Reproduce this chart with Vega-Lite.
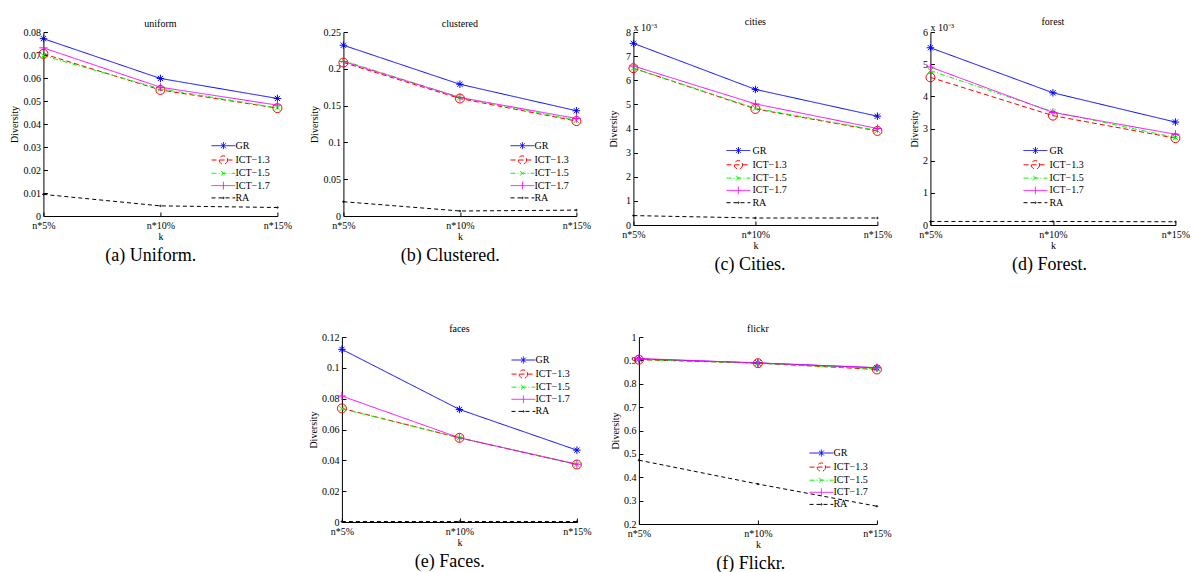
{
  "$schema": "https://vega.github.io/schema/vega-lite/v6.json",
  "padding": {"left": 9, "top": 6, "right": 0, "bottom": 0},
  "datasets": {
    "d": [
      {"ds": "uniform", "alg": "GR", "k": "n*5%", "v": 0.0771},
      {"ds": "uniform", "alg": "GR", "k": "n*10%", "v": 0.0598},
      {"ds": "uniform", "alg": "GR", "k": "n*15%", "v": 0.0511},
      {"ds": "uniform", "alg": "ICT-1.3", "k": "n*5%", "v": 0.0705},
      {"ds": "uniform", "alg": "ICT-1.3", "k": "n*10%", "v": 0.0548},
      {"ds": "uniform", "alg": "ICT-1.3", "k": "n*15%", "v": 0.0469},
      {"ds": "uniform", "alg": "ICT-1.5", "k": "n*5%", "v": 0.0697},
      {"ds": "uniform", "alg": "ICT-1.5", "k": "n*10%", "v": 0.0553},
      {"ds": "uniform", "alg": "ICT-1.5", "k": "n*15%", "v": 0.047},
      {"ds": "uniform", "alg": "ICT-1.7", "k": "n*5%", "v": 0.0731},
      {"ds": "uniform", "alg": "ICT-1.7", "k": "n*10%", "v": 0.056},
      {"ds": "uniform", "alg": "ICT-1.7", "k": "n*15%", "v": 0.0482},
      {"ds": "uniform", "alg": "RA", "k": "n*5%", "v": 0.0094},
      {"ds": "uniform", "alg": "RA", "k": "n*10%", "v": 0.0044},
      {"ds": "uniform", "alg": "RA", "k": "n*15%", "v": 0.0037},

      {"ds": "clustered", "alg": "GR", "k": "n*5%", "v": 0.232},
      {"ds": "clustered", "alg": "GR", "k": "n*10%", "v": 0.179},
      {"ds": "clustered", "alg": "GR", "k": "n*15%", "v": 0.143},
      {"ds": "clustered", "alg": "ICT-1.3", "k": "n*5%", "v": 0.2085},
      {"ds": "clustered", "alg": "ICT-1.3", "k": "n*10%", "v": 0.1596},
      {"ds": "clustered", "alg": "ICT-1.3", "k": "n*15%", "v": 0.129},
      {"ds": "clustered", "alg": "ICT-1.5", "k": "n*5%", "v": 0.211},
      {"ds": "clustered", "alg": "ICT-1.5", "k": "n*10%", "v": 0.161},
      {"ds": "clustered", "alg": "ICT-1.5", "k": "n*15%", "v": 0.13},
      {"ds": "clustered", "alg": "ICT-1.7", "k": "n*5%", "v": 0.21},
      {"ds": "clustered", "alg": "ICT-1.7", "k": "n*10%", "v": 0.161},
      {"ds": "clustered", "alg": "ICT-1.7", "k": "n*15%", "v": 0.1325},
      {"ds": "clustered", "alg": "RA", "k": "n*5%", "v": 0.0194},
      {"ds": "clustered", "alg": "RA", "k": "n*10%", "v": 0.0068},
      {"ds": "clustered", "alg": "RA", "k": "n*15%", "v": 0.008},

      {"ds": "cities", "alg": "GR", "k": "n*5%", "v": 0.00753},
      {"ds": "cities", "alg": "GR", "k": "n*10%", "v": 0.00562},
      {"ds": "cities", "alg": "GR", "k": "n*15%", "v": 0.00451},
      {"ds": "cities", "alg": "ICT-1.3", "k": "n*5%", "v": 0.0065},
      {"ds": "cities", "alg": "ICT-1.3", "k": "n*10%", "v": 0.00481},
      {"ds": "cities", "alg": "ICT-1.3", "k": "n*15%", "v": 0.0039},
      {"ds": "cities", "alg": "ICT-1.5", "k": "n*5%", "v": 0.0065},
      {"ds": "cities", "alg": "ICT-1.5", "k": "n*10%", "v": 0.00484},
      {"ds": "cities", "alg": "ICT-1.5", "k": "n*15%", "v": 0.00392},
      {"ds": "cities", "alg": "ICT-1.7", "k": "n*5%", "v": 0.00659},
      {"ds": "cities", "alg": "ICT-1.7", "k": "n*10%", "v": 0.00502},
      {"ds": "cities", "alg": "ICT-1.7", "k": "n*15%", "v": 0.004},
      {"ds": "cities", "alg": "RA", "k": "n*5%", "v": 0.00039},
      {"ds": "cities", "alg": "RA", "k": "n*10%", "v": 0.00029},
      {"ds": "cities", "alg": "RA", "k": "n*15%", "v": 0.00029},

      {"ds": "forest", "alg": "GR", "k": "n*5%", "v": 0.00551},
      {"ds": "forest", "alg": "GR", "k": "n*10%", "v": 0.00411},
      {"ds": "forest", "alg": "GR", "k": "n*15%", "v": 0.0032},
      {"ds": "forest", "alg": "ICT-1.3", "k": "n*5%", "v": 0.00459},
      {"ds": "forest", "alg": "ICT-1.3", "k": "n*10%", "v": 0.0034},
      {"ds": "forest", "alg": "ICT-1.3", "k": "n*15%", "v": 0.0027},
      {"ds": "forest", "alg": "ICT-1.5", "k": "n*5%", "v": 0.0048},
      {"ds": "forest", "alg": "ICT-1.5", "k": "n*10%", "v": 0.00352},
      {"ds": "forest", "alg": "ICT-1.5", "k": "n*15%", "v": 0.00272},
      {"ds": "forest", "alg": "ICT-1.7", "k": "n*5%", "v": 0.00491},
      {"ds": "forest", "alg": "ICT-1.7", "k": "n*10%", "v": 0.0035},
      {"ds": "forest", "alg": "ICT-1.7", "k": "n*15%", "v": 0.00282},
      {"ds": "forest", "alg": "RA", "k": "n*5%", "v": 0.00011},
      {"ds": "forest", "alg": "RA", "k": "n*10%", "v": 0.00011},
      {"ds": "forest", "alg": "RA", "k": "n*15%", "v": 0.0001},

      {"ds": "faces", "alg": "GR", "k": "n*5%", "v": 0.112},
      {"ds": "faces", "alg": "GR", "k": "n*10%", "v": 0.073},
      {"ds": "faces", "alg": "GR", "k": "n*15%", "v": 0.0466},
      {"ds": "faces", "alg": "ICT-1.3", "k": "n*5%", "v": 0.0737},
      {"ds": "faces", "alg": "ICT-1.3", "k": "n*10%", "v": 0.0546},
      {"ds": "faces", "alg": "ICT-1.3", "k": "n*15%", "v": 0.0373},
      {"ds": "faces", "alg": "ICT-1.5", "k": "n*5%", "v": 0.0735},
      {"ds": "faces", "alg": "ICT-1.5", "k": "n*10%", "v": 0.0546},
      {"ds": "faces", "alg": "ICT-1.5", "k": "n*15%", "v": 0.0373},
      {"ds": "faces", "alg": "ICT-1.7", "k": "n*5%", "v": 0.0817},
      {"ds": "faces", "alg": "ICT-1.7", "k": "n*10%", "v": 0.0546},
      {"ds": "faces", "alg": "ICT-1.7", "k": "n*15%", "v": 0.0375},
      {"ds": "faces", "alg": "RA", "k": "n*5%", "v": 0.0003},
      {"ds": "faces", "alg": "RA", "k": "n*10%", "v": 0.0003},
      {"ds": "faces", "alg": "RA", "k": "n*15%", "v": 0.0003},

      {"ds": "flickr", "alg": "GR", "k": "n*5%", "v": 0.906},
      {"ds": "flickr", "alg": "GR", "k": "n*10%", "v": 0.889},
      {"ds": "flickr", "alg": "GR", "k": "n*15%", "v": 0.868},
      {"ds": "flickr", "alg": "ICT-1.3", "k": "n*5%", "v": 0.903},
      {"ds": "flickr", "alg": "ICT-1.3", "k": "n*10%", "v": 0.888},
      {"ds": "flickr", "alg": "ICT-1.3", "k": "n*15%", "v": 0.861},
      {"ds": "flickr", "alg": "ICT-1.5", "k": "n*5%", "v": 0.904},
      {"ds": "flickr", "alg": "ICT-1.5", "k": "n*10%", "v": 0.888},
      {"ds": "flickr", "alg": "ICT-1.5", "k": "n*15%", "v": 0.864},
      {"ds": "flickr", "alg": "ICT-1.7", "k": "n*5%", "v": 0.908},
      {"ds": "flickr", "alg": "ICT-1.7", "k": "n*10%", "v": 0.889},
      {"ds": "flickr", "alg": "ICT-1.7", "k": "n*15%", "v": 0.869},
      {"ds": "flickr", "alg": "RA", "k": "n*5%", "v": 0.473},
      {"ds": "flickr", "alg": "RA", "k": "n*10%", "v": 0.371},
      {"ds": "flickr", "alg": "RA", "k": "n*15%", "v": 0.276}
    ]
  },
  "center": true,
  "spacing": 49,
  "resolve": {"scale": {"color": "independent", "shape": "independent", "strokeDash": "independent"}},
  "vconcat": [
    {
      "columns": 4,
      "align": "none",
      "spacing": 17,
      "resolve": {"scale": {"color": "independent", "shape": "independent", "strokeDash": "independent"}},
      "concat": [
        {
          "title": {"text": "(a) Uniform.", "orient": "bottom", "anchor": "middle", "fontSize": 18, "offset": 6},
          "resolve": {"scale": {"color": "independent", "shape": "independent", "strokeDash": "independent"}},
          "vconcat": [
            {
              "width": 234, "height": 184,
              "title": {"text": ["", "uniform"], "lineHeight": 13, "frame": "group", "offset": -2},
              "data": {"name": "d"},
              "transform": [{"filter": "datum.ds === 'uniform'"}],
              "encoding": {
                "x": {"field": "k", "type": "ordinal", "sort": ["n*5%", "n*10%", "n*15%"], "scale": {"type": "point", "padding": 0}, "axis": {"title": "k"}},
                "y": {"field": "v", "type": "quantitative", "scale": {"domain": [0, 0.08], "nice": false}, "axis": {"title": "Diversity", "values": [0, 0.01, 0.02, 0.03, 0.04, 0.05, 0.06, 0.07, 0.08], "labelExpr": "toString(datum.value)"}},
                "color": {"field": "alg", "type": "nominal", "scale": {"domain": ["GR", "ICT-1.3", "ICT-1.5", "ICT-1.7", "RA"], "range": ["#0000ff", "#ff0000", "#00ff00", "#ff00ff", "#000000"]},
                  "legend": {"title": null, "orient": "none", "legendX": 175, "legendY": 108.7, "rowPadding": 1.3, "labelOffset": 7, "labelExpr": "replace(datum.label, '-', '−')"}}
              },
              "layer": [
                {"mark": {"type": "line", "strokeWidth": 1},
                 "encoding": {"strokeDash": {"field": "alg", "type": "nominal", "scale": {"domain": ["GR", "ICT-1.3", "ICT-1.5", "ICT-1.7", "RA"], "range": [[1, 0], [5, 3], [5, 2, 1, 2], [1, 0], [4, 3]]}, "legend": null}}},
                {"mark": {"type": "point", "filled": false, "opacity": 1, "strokeWidth": 1, "size": 56},
                 "encoding": {
                   "color": {"field": "alg", "type": "nominal", "scale": {"domain": ["GR", "ICT-1.3", "ICT-1.5", "ICT-1.7", "RA"], "range": ["#0000ff", "#ff0000", "#00ff00", "#ff00ff", "#000000"]}, "legend": null},
                   "shape": {"condition": [{"test": "datum.alg === 'GR'", "value": "M-1,0L1,0M0,-1L0,1M-0.7,-0.7L0.7,0.7M-0.7,0.7L0.7,-0.7"}, {"test": "datum.alg === 'ICT-1.3'", "value": "M1.2,0A1.2,1.2,0,1,1,-1.2,0A1.2,1.2,0,1,1,1.2,0"}, {"test": "datum.alg === 'ICT-1.5'", "value": "M-0.7,-0.7L0.7,0.7M-0.7,0.7L0.7,-0.7"}, {"test": "datum.alg === 'ICT-1.7'", "value": "M-1.1,0L1.1,0M0,-1.1L0,1.1"}], "value": "M-0.2,0A0.2,0.2,0,1,1,0.2,0A0.2,0.2,0,1,1,-0.2,0"}}},
                {"mark": {"type": "point", "filled": false, "opacity": 0, "strokeWidth": 1, "size": 49},
                 "encoding": {"shape": {"field": "alg", "type": "nominal", "scale": {"domain": ["GR", "ICT-1.3", "ICT-1.5", "ICT-1.7", "RA"], "range": ["M-3.4,0L3.4,0M0,-1L0,1M-0.7,-0.7L0.7,0.7M-0.7,0.7L0.7,-0.7", "M-3.4,0L3.4,0M1.2,0A1.2,1.2,0,1,1,-1.2,0A1.2,1.2,0,1,1,1.2,0", "M-3.4,0L3.4,0M-0.7,-0.7L0.7,0.7M-0.7,0.7L0.7,-0.7", "M-3.4,0L3.4,0M0,-1.1L0,1.1", "M-3.4,0L3.4,0M-0.2,0A0.2,0.2,0,1,1,0.2,0A0.2,0.2,0,1,1,-0.2,0"]}, "legend": null}}}
              ]
            }
          ]
        },
        {
          "title": {"text": "(b) Clustered.", "orient": "bottom", "anchor": "middle", "fontSize": 18, "offset": 6},
          "resolve": {"scale": {"color": "independent", "shape": "independent", "strokeDash": "independent"}},
          "vconcat": [
            {
              "width": 233, "height": 184,
              "title": {"text": ["", "clustered"], "lineHeight": 13, "frame": "group", "offset": -2},
              "data": {"name": "d"},
              "transform": [{"filter": "datum.ds === 'clustered'"}],
              "encoding": {
                "x": {"field": "k", "type": "ordinal", "sort": ["n*5%", "n*10%", "n*15%"], "scale": {"type": "point", "padding": 0}, "axis": {"title": "k"}},
                "y": {"field": "v", "type": "quantitative", "scale": {"domain": [0, 0.25], "nice": false}, "axis": {"title": "Diversity", "values": [0, 0.05, 0.1, 0.15, 0.2, 0.25], "labelExpr": "toString(datum.value)"}},
                "color": {"field": "alg", "type": "nominal", "scale": {"domain": ["GR", "ICT-1.3", "ICT-1.5", "ICT-1.7", "RA"], "range": ["#0000ff", "#ff0000", "#00ff00", "#ff00ff", "#000000"]},
                  "legend": {"title": null, "orient": "none", "legendX": 174, "legendY": 108.7, "rowPadding": 1.3, "labelOffset": 7, "labelExpr": "replace(datum.label, '-', '−')"}}
              },
              "layer": [
                {"mark": {"type": "line", "strokeWidth": 1},
                 "encoding": {"strokeDash": {"field": "alg", "type": "nominal", "scale": {"domain": ["GR", "ICT-1.3", "ICT-1.5", "ICT-1.7", "RA"], "range": [[1, 0], [5, 3], [5, 2, 1, 2], [1, 0], [4, 3]]}, "legend": null}}},
                {"mark": {"type": "point", "filled": false, "opacity": 1, "strokeWidth": 1, "size": 56},
                 "encoding": {
                   "color": {"field": "alg", "type": "nominal", "scale": {"domain": ["GR", "ICT-1.3", "ICT-1.5", "ICT-1.7", "RA"], "range": ["#0000ff", "#ff0000", "#00ff00", "#ff00ff", "#000000"]}, "legend": null},
                   "shape": {"condition": [{"test": "datum.alg === 'GR'", "value": "M-1,0L1,0M0,-1L0,1M-0.7,-0.7L0.7,0.7M-0.7,0.7L0.7,-0.7"}, {"test": "datum.alg === 'ICT-1.3'", "value": "M1.2,0A1.2,1.2,0,1,1,-1.2,0A1.2,1.2,0,1,1,1.2,0"}, {"test": "datum.alg === 'ICT-1.5'", "value": "M-0.7,-0.7L0.7,0.7M-0.7,0.7L0.7,-0.7"}, {"test": "datum.alg === 'ICT-1.7'", "value": "M-1.1,0L1.1,0M0,-1.1L0,1.1"}], "value": "M-0.2,0A0.2,0.2,0,1,1,0.2,0A0.2,0.2,0,1,1,-0.2,0"}}},
                {"mark": {"type": "point", "filled": false, "opacity": 0, "strokeWidth": 1, "size": 49},
                 "encoding": {"shape": {"field": "alg", "type": "nominal", "scale": {"domain": ["GR", "ICT-1.3", "ICT-1.5", "ICT-1.7", "RA"], "range": ["M-3.4,0L3.4,0M0,-1L0,1M-0.7,-0.7L0.7,0.7M-0.7,0.7L0.7,-0.7", "M-3.4,0L3.4,0M1.2,0A1.2,1.2,0,1,1,-1.2,0A1.2,1.2,0,1,1,1.2,0", "M-3.4,0L3.4,0M-0.7,-0.7L0.7,0.7M-0.7,0.7L0.7,-0.7", "M-3.4,0L3.4,0M0,-1.1L0,1.1", "M-3.4,0L3.4,0M-0.2,0A0.2,0.2,0,1,1,0.2,0A0.2,0.2,0,1,1,-0.2,0"]}, "legend": null}}}
              ]
            }
          ]
        },
        {
          "title": {"text": "(c) Cities.", "orient": "bottom", "anchor": "middle", "fontSize": 18, "offset": 6},
          "resolve": {"scale": {"color": "independent", "shape": "independent", "strokeDash": "independent"}},
          "vconcat": [
            {
              "width": 244, "height": 193,
              "title": {"text": "cities", "frame": "group", "offset": -4},
              "data": {"name": "d"},
              "transform": [{"filter": "datum.ds === 'cities'"}],
              "encoding": {
                "x": {"field": "k", "type": "ordinal", "sort": ["n*5%", "n*10%", "n*15%"], "scale": {"type": "point", "padding": 0}, "axis": {"title": "k"}},
                "y": {"field": "v", "type": "quantitative", "scale": {"domain": [0, 0.008], "nice": false}, "axis": {"title": "Diversity", "titlePadding": 7, "values": [0, 0.001, 0.002, 0.003, 0.004, 0.005, 0.006, 0.007, 0.008], "labelExpr": "format(datum.value * 1000, '.0f')"}},
                "color": {"field": "alg", "type": "nominal", "scale": {"domain": ["GR", "ICT-1.3", "ICT-1.5", "ICT-1.7", "RA"], "range": ["#0000ff", "#ff0000", "#00ff00", "#ff00ff", "#000000"]},
                  "legend": {"title": null, "orient": "none", "legendX": 100, "legendY": 113.5, "rowPadding": 1.3, "labelOffset": 9, "labelExpr": "replace(datum.label, '-', '−')"}}
              },
              "layer": [
                {"mark": {"type": "line", "strokeWidth": 1},
                 "encoding": {"strokeDash": {"field": "alg", "type": "nominal", "scale": {"domain": ["GR", "ICT-1.3", "ICT-1.5", "ICT-1.7", "RA"], "range": [[1, 0], [5, 3], [5, 2, 1, 2], [1, 0], [4, 3]]}, "legend": null}}},
                {"mark": {"type": "point", "filled": false, "opacity": 1, "strokeWidth": 1, "size": 56},
                 "encoding": {
                   "color": {"field": "alg", "type": "nominal", "scale": {"domain": ["GR", "ICT-1.3", "ICT-1.5", "ICT-1.7", "RA"], "range": ["#0000ff", "#ff0000", "#00ff00", "#ff00ff", "#000000"]}, "legend": null},
                   "shape": {"condition": [{"test": "datum.alg === 'GR'", "value": "M-1,0L1,0M0,-1L0,1M-0.7,-0.7L0.7,0.7M-0.7,0.7L0.7,-0.7"}, {"test": "datum.alg === 'ICT-1.3'", "value": "M1.2,0A1.2,1.2,0,1,1,-1.2,0A1.2,1.2,0,1,1,1.2,0"}, {"test": "datum.alg === 'ICT-1.5'", "value": "M-0.7,-0.7L0.7,0.7M-0.7,0.7L0.7,-0.7"}, {"test": "datum.alg === 'ICT-1.7'", "value": "M-1.1,0L1.1,0M0,-1.1L0,1.1"}], "value": "M-0.2,0A0.2,0.2,0,1,1,0.2,0A0.2,0.2,0,1,1,-0.2,0"}}},
                {"mark": {"type": "point", "filled": false, "opacity": 0, "strokeWidth": 1, "size": 49},
                 "encoding": {"shape": {"field": "alg", "type": "nominal", "scale": {"domain": ["GR", "ICT-1.3", "ICT-1.5", "ICT-1.7", "RA"], "range": ["M-3.4,0L3.4,0M0,-1L0,1M-0.7,-0.7L0.7,0.7M-0.7,0.7L0.7,-0.7", "M-3.4,0L3.4,0M1.2,0A1.2,1.2,0,1,1,-1.2,0A1.2,1.2,0,1,1,1.2,0", "M-3.4,0L3.4,0M-0.7,-0.7L0.7,0.7M-0.7,0.7L0.7,-0.7", "M-3.4,0L3.4,0M0,-1.1L0,1.1", "M-3.4,0L3.4,0M-0.2,0A0.2,0.2,0,1,1,0.2,0A0.2,0.2,0,1,1,-0.2,0"]}, "legend": null}}},
                {"transform": [{"filter": "datum.alg === 'GR' && datum.k === 'n*5%'"}],
                 "mark": {"type": "text", "align": "left", "baseline": "bottom", "dy": 1, "fontSize": 10, "font": "Liberation Serif"},
                 "encoding": {"x": {"datum": "n*5%"}, "y": {"datum": 0.008}, "text": {"value": "x 10⁻³"}, "color": {"value": "#000000"}}}
              ]
            }
          ]
        },
        {
          "title": {"text": "(d) Forest.", "orient": "bottom", "anchor": "middle", "fontSize": 18, "offset": 6},
          "resolve": {"scale": {"color": "independent", "shape": "independent", "strokeDash": "independent"}},
          "vconcat": [
            {
              "width": 245, "height": 193,
              "title": {"text": "forest", "frame": "group", "offset": -4},
              "data": {"name": "d"},
              "transform": [{"filter": "datum.ds === 'forest'"}],
              "encoding": {
                "x": {"field": "k", "type": "ordinal", "sort": ["n*5%", "n*10%", "n*15%"], "scale": {"type": "point", "padding": 0}, "axis": {"title": "k"}},
                "y": {"field": "v", "type": "quantitative", "scale": {"domain": [0, 0.006], "nice": false}, "axis": {"title": "Diversity", "titlePadding": 3, "values": [0, 0.001, 0.002, 0.003, 0.004, 0.005, 0.006], "labelExpr": "format(datum.value * 1000, '.0f')"}},
                "color": {"field": "alg", "type": "nominal", "scale": {"domain": ["GR", "ICT-1.3", "ICT-1.5", "ICT-1.7", "RA"], "range": ["#0000ff", "#ff0000", "#00ff00", "#ff00ff", "#000000"]},
                  "legend": {"title": null, "orient": "none", "legendX": 100, "legendY": 113.5, "rowPadding": 1.3, "labelOffset": 9, "labelExpr": "replace(datum.label, '-', '−')"}}
              },
              "layer": [
                {"mark": {"type": "line", "strokeWidth": 1},
                 "encoding": {"strokeDash": {"field": "alg", "type": "nominal", "scale": {"domain": ["GR", "ICT-1.3", "ICT-1.5", "ICT-1.7", "RA"], "range": [[1, 0], [5, 3], [5, 2, 1, 2], [1, 0], [4, 3]]}, "legend": null}}},
                {"mark": {"type": "point", "filled": false, "opacity": 1, "strokeWidth": 1, "size": 56},
                 "encoding": {
                   "color": {"field": "alg", "type": "nominal", "scale": {"domain": ["GR", "ICT-1.3", "ICT-1.5", "ICT-1.7", "RA"], "range": ["#0000ff", "#ff0000", "#00ff00", "#ff00ff", "#000000"]}, "legend": null},
                   "shape": {"condition": [{"test": "datum.alg === 'GR'", "value": "M-1,0L1,0M0,-1L0,1M-0.7,-0.7L0.7,0.7M-0.7,0.7L0.7,-0.7"}, {"test": "datum.alg === 'ICT-1.3'", "value": "M1.2,0A1.2,1.2,0,1,1,-1.2,0A1.2,1.2,0,1,1,1.2,0"}, {"test": "datum.alg === 'ICT-1.5'", "value": "M-0.7,-0.7L0.7,0.7M-0.7,0.7L0.7,-0.7"}, {"test": "datum.alg === 'ICT-1.7'", "value": "M-1.1,0L1.1,0M0,-1.1L0,1.1"}], "value": "M-0.2,0A0.2,0.2,0,1,1,0.2,0A0.2,0.2,0,1,1,-0.2,0"}}},
                {"mark": {"type": "point", "filled": false, "opacity": 0, "strokeWidth": 1, "size": 49},
                 "encoding": {"shape": {"field": "alg", "type": "nominal", "scale": {"domain": ["GR", "ICT-1.3", "ICT-1.5", "ICT-1.7", "RA"], "range": ["M-3.4,0L3.4,0M0,-1L0,1M-0.7,-0.7L0.7,0.7M-0.7,0.7L0.7,-0.7", "M-3.4,0L3.4,0M1.2,0A1.2,1.2,0,1,1,-1.2,0A1.2,1.2,0,1,1,1.2,0", "M-3.4,0L3.4,0M-0.7,-0.7L0.7,0.7M-0.7,0.7L0.7,-0.7", "M-3.4,0L3.4,0M0,-1.1L0,1.1", "M-3.4,0L3.4,0M-0.2,0A0.2,0.2,0,1,1,0.2,0A0.2,0.2,0,1,1,-0.2,0"]}, "legend": null}}},
                {"transform": [{"filter": "datum.alg === 'GR' && datum.k === 'n*5%'"}],
                 "mark": {"type": "text", "align": "left", "baseline": "bottom", "dy": 1, "fontSize": 10, "font": "Liberation Serif"},
                 "encoding": {"x": {"datum": "n*5%"}, "y": {"datum": 0.006}, "text": {"value": "x 10⁻³"}, "color": {"value": "#000000"}}}
              ]
            }
          ]
        }
      ]
    },
    {
      "spacing": 18,
      "resolve": {"scale": {"color": "independent", "shape": "independent", "strokeDash": "independent"}},
      "hconcat": [
        {
          "title": {"text": "(e) Faces.", "orient": "bottom", "anchor": "middle", "fontSize": 18, "offset": 6},
          "resolve": {"scale": {"color": "independent", "shape": "independent", "strokeDash": "independent"}},
          "vconcat": [
            {
              "width": 235, "height": 185,
              "title": {"text": "faces", "frame": "group", "offset": -1.5},
              "data": {"name": "d"},
              "transform": [{"filter": "datum.ds === 'faces'"}],
              "encoding": {
                "x": {"field": "k", "type": "ordinal", "sort": ["n*5%", "n*10%", "n*15%"], "scale": {"type": "point", "padding": 0}, "axis": {"title": "k"}},
                "y": {"field": "v", "type": "quantitative", "scale": {"domain": [0, 0.12], "nice": false}, "axis": {"title": "Diversity", "values": [0, 0.02, 0.04, 0.06, 0.08, 0.1, 0.12], "labelExpr": "toString(datum.value)"}},
                "color": {"field": "alg", "type": "nominal", "scale": {"domain": ["GR", "ICT-1.3", "ICT-1.5", "ICT-1.7", "RA"], "range": ["#0000ff", "#ff0000", "#00ff00", "#ff00ff", "#000000"]},
                  "legend": {"title": null, "orient": "none", "legendX": 176.5, "legendY": 18, "rowPadding": 1.1, "labelOffset": 7, "labelExpr": "replace(datum.label, '-', '−')"}}
              },
              "layer": [
                {"mark": {"type": "line", "strokeWidth": 1},
                 "encoding": {"strokeDash": {"field": "alg", "type": "nominal", "scale": {"domain": ["GR", "ICT-1.3", "ICT-1.5", "ICT-1.7", "RA"], "range": [[1, 0], [5, 3], [5, 2, 1, 2], [1, 0], [4, 3]]}, "legend": null}}},
                {"mark": {"type": "point", "filled": false, "opacity": 1, "strokeWidth": 1, "size": 56},
                 "encoding": {
                   "color": {"field": "alg", "type": "nominal", "scale": {"domain": ["GR", "ICT-1.3", "ICT-1.5", "ICT-1.7", "RA"], "range": ["#0000ff", "#ff0000", "#00ff00", "#ff00ff", "#000000"]}, "legend": null},
                   "shape": {"condition": [{"test": "datum.alg === 'GR'", "value": "M-1,0L1,0M0,-1L0,1M-0.7,-0.7L0.7,0.7M-0.7,0.7L0.7,-0.7"}, {"test": "datum.alg === 'ICT-1.3'", "value": "M1.2,0A1.2,1.2,0,1,1,-1.2,0A1.2,1.2,0,1,1,1.2,0"}, {"test": "datum.alg === 'ICT-1.5'", "value": "M-0.7,-0.7L0.7,0.7M-0.7,0.7L0.7,-0.7"}, {"test": "datum.alg === 'ICT-1.7'", "value": "M-1.1,0L1.1,0M0,-1.1L0,1.1"}], "value": "M-0.2,0A0.2,0.2,0,1,1,0.2,0A0.2,0.2,0,1,1,-0.2,0"}}},
                {"mark": {"type": "point", "filled": false, "opacity": 0, "strokeWidth": 1, "size": 49},
                 "encoding": {"shape": {"field": "alg", "type": "nominal", "scale": {"domain": ["GR", "ICT-1.3", "ICT-1.5", "ICT-1.7", "RA"], "range": ["M-3.4,0L3.4,0M0,-1L0,1M-0.7,-0.7L0.7,0.7M-0.7,0.7L0.7,-0.7", "M-3.4,0L3.4,0M1.2,0A1.2,1.2,0,1,1,-1.2,0A1.2,1.2,0,1,1,1.2,0", "M-3.4,0L3.4,0M-0.7,-0.7L0.7,0.7M-0.7,0.7L0.7,-0.7", "M-3.4,0L3.4,0M0,-1.1L0,1.1", "M-3.4,0L3.4,0M-0.2,0A0.2,0.2,0,1,1,0.2,0A0.2,0.2,0,1,1,-0.2,0"]}, "legend": null}}}
              ]
            }
          ]
        },
        {
          "title": {"text": "(f) Flickr.", "orient": "bottom", "anchor": "middle", "fontSize": 18, "offset": 6},
          "resolve": {"scale": {"color": "independent", "shape": "independent", "strokeDash": "independent"}},
          "vconcat": [
            {
              "width": 238, "height": 187,
              "title": {"text": "flickr", "frame": "group", "offset": -1.5},
              "data": {"name": "d"},
              "transform": [{"filter": "datum.ds === 'flickr'"}],
              "encoding": {
                "x": {"field": "k", "type": "ordinal", "sort": ["n*5%", "n*10%", "n*15%"], "scale": {"type": "point", "padding": 0}, "axis": {"title": "k"}},
                "y": {"field": "v", "type": "quantitative", "scale": {"domain": [0.2, 1], "nice": false, "zero": false}, "axis": {"title": "Diversity", "values": [0.2, 0.3, 0.4, 0.5, 0.6, 0.7, 0.8, 0.9, 1], "labelExpr": "toString(datum.value)"}},
                "color": {"field": "alg", "type": "nominal", "scale": {"domain": ["GR", "ICT-1.3", "ICT-1.5", "ICT-1.7", "RA"], "range": ["#0000ff", "#ff0000", "#00ff00", "#ff00ff", "#000000"]},
                  "legend": {"title": null, "orient": "none", "legendX": 177.5, "legendY": 111, "rowPadding": 1.1, "labelOffset": 7, "labelExpr": "replace(datum.label, '-', '−')"}}
              },
              "layer": [
                {"mark": {"type": "line", "strokeWidth": 1},
                 "encoding": {"strokeDash": {"field": "alg", "type": "nominal", "scale": {"domain": ["GR", "ICT-1.3", "ICT-1.5", "ICT-1.7", "RA"], "range": [[1, 0], [5, 3], [5, 2, 1, 2], [1, 0], [4, 3]]}, "legend": null}}},
                {"mark": {"type": "point", "filled": false, "opacity": 1, "strokeWidth": 1, "size": 56},
                 "encoding": {
                   "color": {"field": "alg", "type": "nominal", "scale": {"domain": ["GR", "ICT-1.3", "ICT-1.5", "ICT-1.7", "RA"], "range": ["#0000ff", "#ff0000", "#00ff00", "#ff00ff", "#000000"]}, "legend": null},
                   "shape": {"condition": [{"test": "datum.alg === 'GR'", "value": "M-1,0L1,0M0,-1L0,1M-0.7,-0.7L0.7,0.7M-0.7,0.7L0.7,-0.7"}, {"test": "datum.alg === 'ICT-1.3'", "value": "M1.2,0A1.2,1.2,0,1,1,-1.2,0A1.2,1.2,0,1,1,1.2,0"}, {"test": "datum.alg === 'ICT-1.5'", "value": "M-0.7,-0.7L0.7,0.7M-0.7,0.7L0.7,-0.7"}, {"test": "datum.alg === 'ICT-1.7'", "value": "M-1.1,0L1.1,0M0,-1.1L0,1.1"}], "value": "M-0.2,0A0.2,0.2,0,1,1,0.2,0A0.2,0.2,0,1,1,-0.2,0"}}},
                {"mark": {"type": "point", "filled": false, "opacity": 0, "strokeWidth": 1, "size": 49},
                 "encoding": {"shape": {"field": "alg", "type": "nominal", "scale": {"domain": ["GR", "ICT-1.3", "ICT-1.5", "ICT-1.7", "RA"], "range": ["M-3.4,0L3.4,0M0,-1L0,1M-0.7,-0.7L0.7,0.7M-0.7,0.7L0.7,-0.7", "M-3.4,0L3.4,0M1.2,0A1.2,1.2,0,1,1,-1.2,0A1.2,1.2,0,1,1,1.2,0", "M-3.4,0L3.4,0M-0.7,-0.7L0.7,0.7M-0.7,0.7L0.7,-0.7", "M-3.4,0L3.4,0M0,-1.1L0,1.1", "M-3.4,0L3.4,0M-0.2,0A0.2,0.2,0,1,1,0.2,0A0.2,0.2,0,1,1,-0.2,0"]}, "legend": null}}}
              ]
            }
          ]
        }
      ]
    }
  ],
  "config": {
    "view": {"stroke": null},
    "font": "Liberation Serif",
    "axis": {"grid": false, "domainColor": "#000000", "tickColor": "#000000", "labelColor": "#000000", "titleColor": "#000000",
      "labelFont": "Liberation Serif", "labelFontSize": 10, "titleFont": "Liberation Serif", "titleFontSize": 10, "titleFontWeight": "normal",
      "tickSize": -4, "labelPadding": 7, "domainWidth": 1, "tickWidth": 1, "labelFlush": false},
    "axisX": {"titlePadding": 1, "labelAngle": 0, "labelPadding": 8},
    "axisY": {"titlePadding": 3},
    "title": {"font": "Liberation Serif", "fontSize": 10, "fontWeight": "normal", "color": "#000000"},
    "legend": {"labelFont": "Liberation Serif", "labelFontSize": 10, "labelColor": "#000000", "symbolSize": 49, "symbolStrokeWidth": 1, "padding": 0, "symbolOpacity": 1}
  }
}
